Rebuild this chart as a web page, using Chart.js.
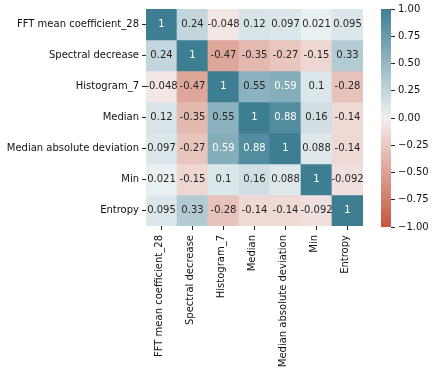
<!DOCTYPE html>
<html>
<head>
<meta charset="utf-8">
<script src="https://cdn.jsdelivr.net/npm/chart.js@4"></script>
<style>
  html, body { margin: 0; padding: 0; background: #fff; }
  #wrap { position: relative; width: 436px; height: 374px; }
  canvas { position: absolute; left: 0; top: 0; }
</style>
</head>
<body>
<div id="wrap">
  <canvas id="heat" width="436" height="374"></canvas>
  <canvas id="cbar" width="436" height="374"></canvas>
</div>
<script>
const features = ['FFT mean coefficient_28', 'Spectral decrease', 'Histogram_7', 'Median',
  'Median absolute deviation', 'Min', 'Entropy'];

// correlation matrix, one array per row
const rowFFT = [1, 0.24, -0.048, 0.12, 0.097, 0.021, 0.095];
const rowSpectral = [0.24, 1, -0.47, -0.35, -0.27, -0.15, 0.33];
const rowHist7 = [-0.048, -0.47, 1, 0.55, 0.59, 0.1, -0.28];
const rowMedian = [0.12, -0.35, 0.55, 1, 0.88, 0.16, -0.14];
const rowMAD = [0.097, -0.27, 0.59, 0.88, 1, 0.088, -0.14];
const rowMin = [0.021, -0.15, 0.1, 0.16, 0.088, 1, -0.092];
const rowEntropy = [0.095, 0.33, -0.28, -0.14, -0.14, -0.092, 1];
const rows = [rowFFT, rowSpectral, rowHist7, rowMedian, rowMAD, rowMin, rowEntropy];

const cbarTicks = [-1, -0.75, -0.5, -0.25, 0, 0.25, 0.5, 0.75, 1];

const FONT = 'DejaVu Sans';

// diverging palette (red 20 -> blue 220), like seaborn
const RED = [196, 86, 61], RED_LIGHT = [245, 238, 237];
const MID = [242, 242, 242];
const BLUE_LIGHT = [237, 242, 244], BLUE = [61, 126, 147];
function mix(a, b, t) { return a.map((c, i) => c + (b[i] - c) * t); }
function cmapRGB(v) {
  v = Math.max(-1, Math.min(1, v));
  if (v < 0) {
    const t = -v;
    if (t < 1 / 255) return mix(MID, RED_LIGHT, t * 255);
    return mix(RED_LIGHT, RED, t);
  }
  if (v < 1 / 255) return mix(MID, BLUE_LIGHT, v * 255);
  return mix(BLUE_LIGHT, BLUE, v);
}
function cmap(v) {
  const c = cmapRGB(v).map(Math.round);
  return 'rgb(' + c.join(',') + ')';
}
function textColor(v) {
  const lin = cmapRGB(v).map(c => {
    c /= 255;
    return c <= 0.03928 ? c / 12.92 : Math.pow((c + 0.055) / 1.055, 2.4);
  });
  const lum = 0.2126 * lin[0] + 0.7152 * lin[1] + 0.0722 * lin[2];
  return lum > 0.408 ? '#262626' : '#ffffff';
}

const datasets = rows.map((row, r) => ({
  label: features[r],
  data: row.map(() => [r, r + 1]),
  backgroundColor: row.map(v => cmap(v)),
  borderWidth: 0,
  grouped: false,
  barPercentage: 1,
  categoryPercentage: 1
}));

const annotate = {
  id: 'annotate',
  afterDatasetsDraw(chart) {
    const ctx = chart.ctx;
    ctx.save();
    ctx.font = '10px "' + FONT + '"';
    ctx.textAlign = 'center';
    ctx.textBaseline = 'middle';
    rows.forEach((row, r) => {
      const meta = chart.getDatasetMeta(r);
      meta.data.forEach((bar, c) => {
        ctx.fillStyle = textColor(row[c]);
        ctx.fillText(String(row[c]), bar.x, (bar.y + bar.base) / 2);
      });
    });
    ctx.restore();
  }
};

new Chart(document.getElementById('heat'), {
  type: 'bar',
  data: { labels: features, datasets: datasets },
  plugins: [annotate],
  options: {
    responsive: false,
    animation: false,
    layout: { padding: { top: 9, right: 73, left: 0, bottom: 0 } },
    plugins: { legend: { display: false }, tooltip: { enabled: false } },
    scales: {
      x: {
        offset: true,
        border: { display: false },
        grid: { offset: false, drawOnChartArea: false, tickLength: 4, tickColor: '#262626' },
        ticks: { color: '#111', font: { family: FONT, size: 10 }, minRotation: 90, maxRotation: 90,
          padding: 5, labelOffset: -2, autoSkip: false },
        afterFit(scale) { scale.height = 148; }
      },
      y: {
        type: 'linear',
        min: 0, max: 7,
        reverse: true,
        border: { display: false },
        grid: { drawOnChartArea: false, tickLength: 4, tickColor: '#262626' },
        afterBuildTicks(scale) { scale.ticks = features.map((_, i) => ({ value: i + 0.5 })); },
        ticks: {
          color: '#111', font: { family: FONT, size: 10 }, padding: 3,
          callback: v => features[Math.floor(v)]
        },
        afterFit(scale) { scale.width = 146; }
      }
    }
  }
});

const gradientFill = {
  id: 'gradientFill',
  beforeDatasetsDraw(chart) {
    const ctx = chart.ctx, area = chart.chartArea, ys = chart.scales.y;
    for (let py = Math.floor(area.top); py < Math.ceil(area.bottom); py++) {
      ctx.fillStyle = cmap(ys.getValueForPixel(py + 0.5));
      ctx.fillRect(area.left, py, area.right - area.left, 1);
    }
  }
};

new Chart(document.getElementById('cbar'), {
  type: 'bar',
  data: { labels: [''], datasets: [{ data: [null] }] },
  plugins: [gradientFill],
  options: {
    responsive: false,
    animation: false,
    layout: { padding: { top: 9, right: 0, left: 381, bottom: 147 } },
    plugins: { legend: { display: false }, tooltip: { enabled: false } },
    scales: {
      x: { display: false },
      y: {
        position: 'right',
        min: -1, max: 1,
        border: { display: false },
        grid: { drawOnChartArea: false, tickLength: 4, tickColor: '#262626' },
        afterBuildTicks(scale) { scale.ticks = cbarTicks.map(v => ({ value: v })); },
        ticks: {
          color: '#111', font: { family: FONT, size: 10 }, padding: 3,
          callback: v => (v < 0 ? '\u2212' : '') + Math.abs(v).toFixed(2)
        },
        afterFit(scale) { scale.width = 45; }
      }
    }
  }
});
</script>
</body>
</html>
